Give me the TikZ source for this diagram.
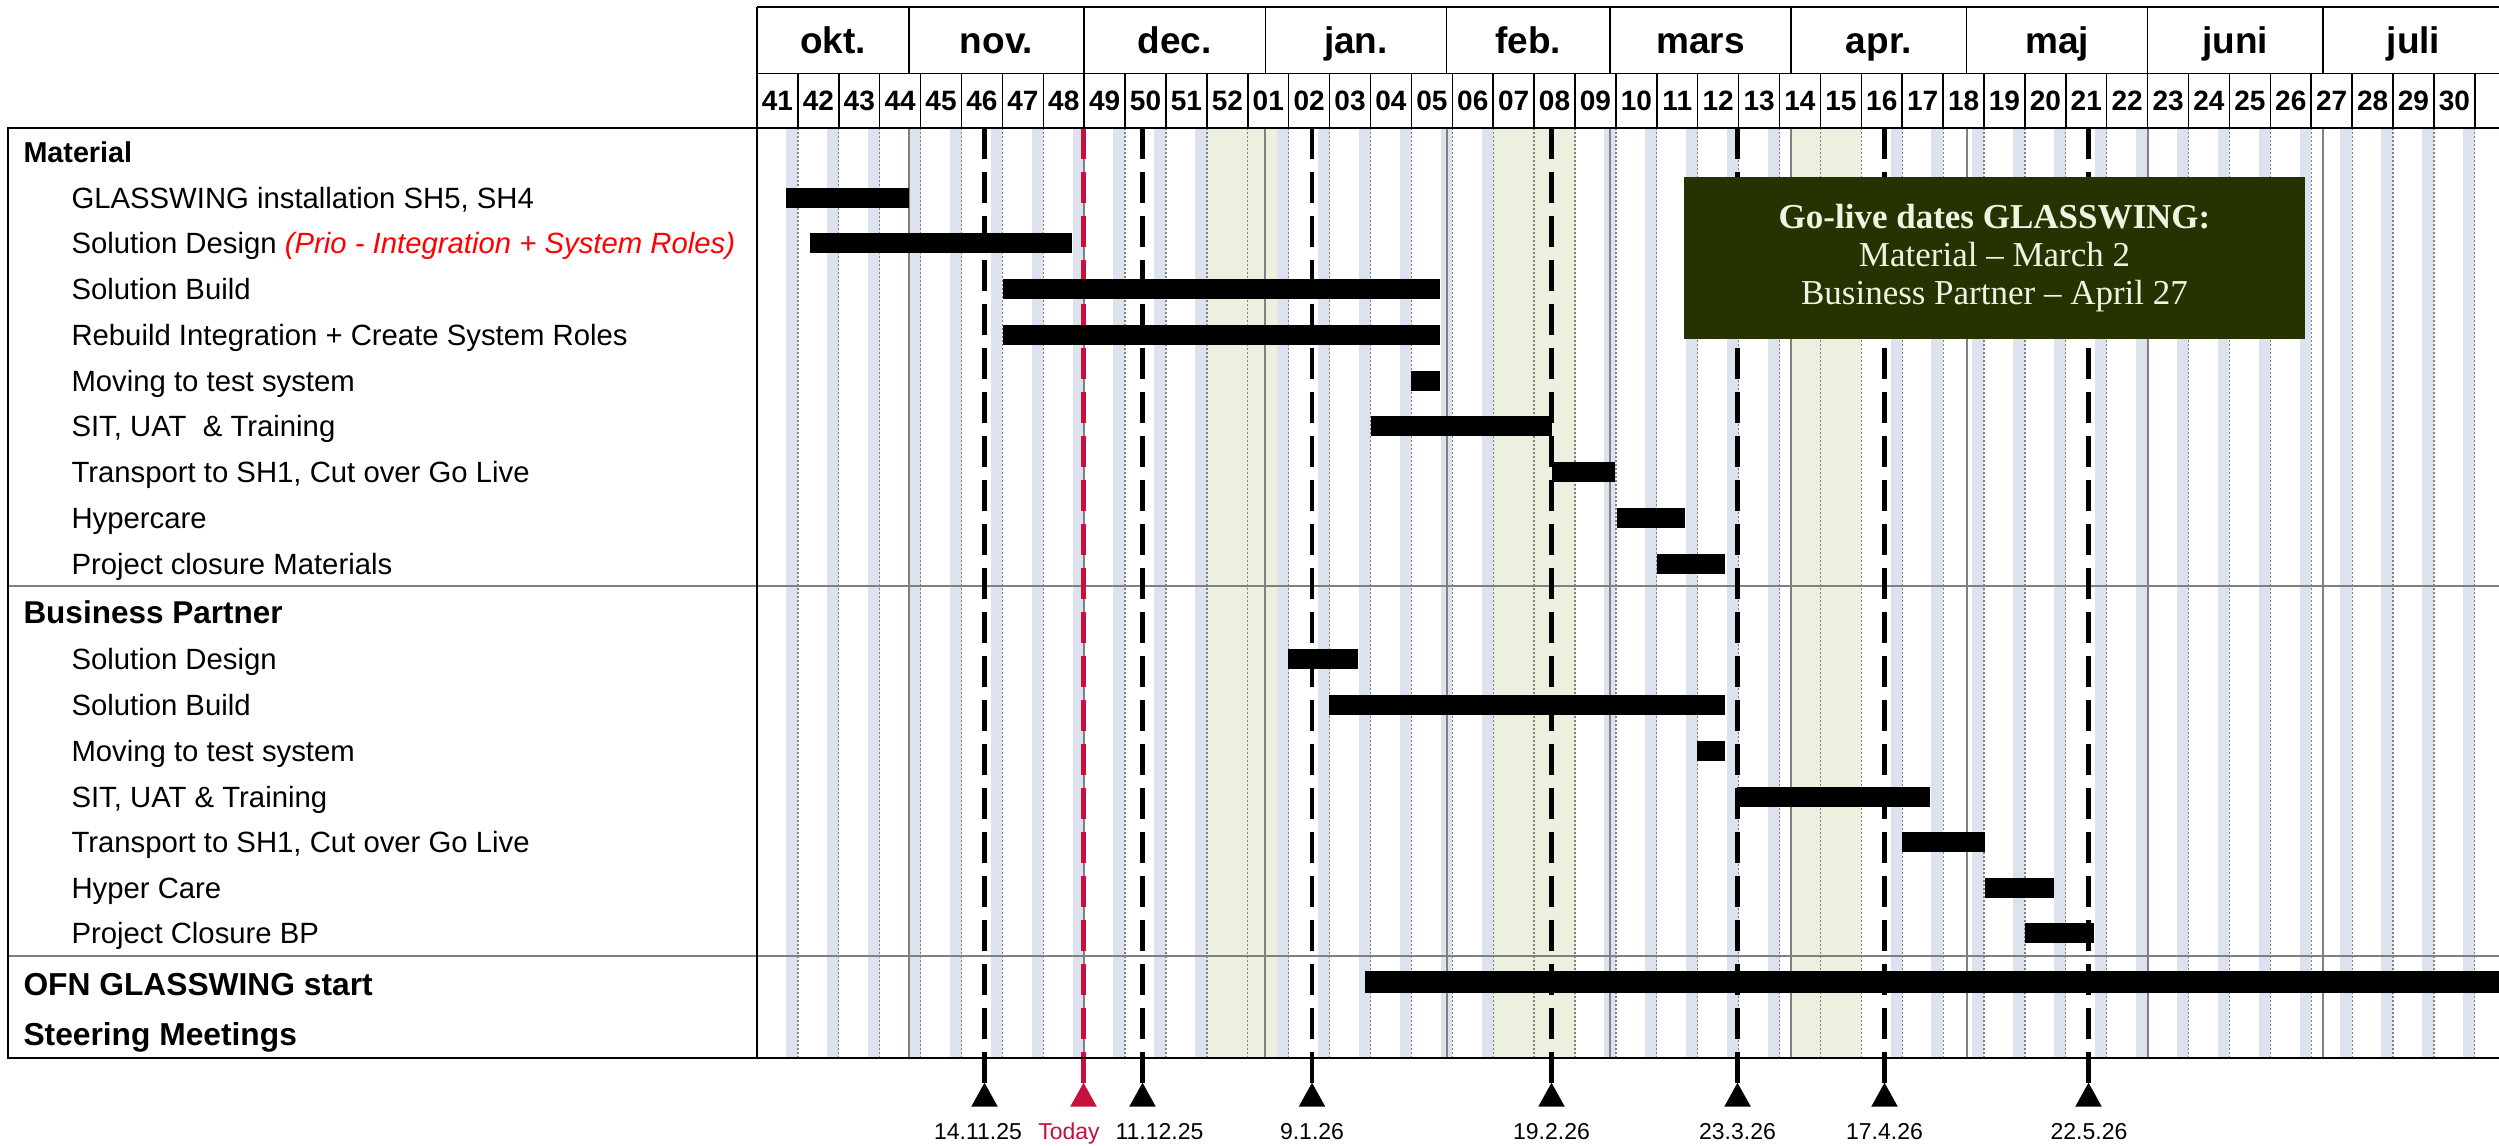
\documentclass[tikz,border=0pt]{standalone}
\usepackage{fontspec}
\setmainfont{Liberation Sans}
\newfontfamily\boxserif{Liberation Serif}
\definecolor{wkend}{RGB}{220,227,238}
\definecolor{holgreen}{RGB}{235,241,222}
\definecolor{gridgray}{RGB}{128,128,128}
\definecolor{boxgreen}{RGB}{38,51,0}
\definecolor{boxtext}{RGB}{238,244,226}
\definecolor{todayred}{RGB}{200,16,60}
\definecolor{prio}{RGB}{255,0,0}
\begin{document}
\begin{tikzpicture}[x=0.4pt,y=-0.4pt,
  itemlbl/.style={anchor=base west,inner sep=0pt,font=\fontsize{11.72pt}{14pt}\selectfont},
  seclbl/.style={anchor=base west,inner sep=0pt,font=\bfseries\fontsize{11.5pt}{14pt}\selectfont},
  biglbl/.style={anchor=base west,inner sep=0pt,font=\bfseries\fontsize{12.7pt}{15pt}\selectfont},
  monthlbl/.style={anchor=base,inner sep=0pt,font=\bfseries\fontsize{14.8pt}{17pt}\selectfont},
  weeklbl/.style={anchor=base,inner sep=0pt,font=\bfseries\fontsize{11.2pt}{13pt}\selectfont},
  datelbl/.style={anchor=base,inner sep=0pt,font=\fontsize{9.2pt}{11pt}\selectfont},
  ganttbar/.style={fill=black},
  wkline/.style={draw=gridgray,line width=0.5pt,dash pattern=on 0.8pt off 0.8pt},
  monline/.style={draw=gridgray,line width=0.8pt},
  frameline/.style={draw=black,line width=0.68pt},
  hdrline/.style={draw=black,line width=0.6pt},
  sepline/.style={draw=gridgray,line width=0.7pt},
  marker/.style={line width=1.72pt,dash pattern=on 12.4pt off 5.2pt},
]
\useasboundingbox (0,0) rectangle (2499,1146);
\clip (0,0) rectangle (2499,1146);
\fill[white] (0,0) rectangle (2499,1146);
% weekend stripes
\foreach \k in {0,...,41}{
  \fill[wkend] ({757+40.9*\k+29.2},127.7) rectangle ({757+40.9*(\k+1)},1057.7);
}
% holiday areas
\fill[holgreen] (1207,127.7) rectangle (1277,1057.7);
\fill[holgreen] (1493,127.7) rectangle (1576,1057.7);
\fill[holgreen] (1791,127.7) rectangle (1861.3,1057.7);
% week dotted lines
\foreach \k in {1,...,42}{
  \draw[wkline] ({757+40.9*\k},127.7) -- ({757+40.9*\k},1057.7);
}
% month lines
\foreach \x in {908.9,1084.2,1265.3,1446.5,1610.1,1791.2,1966.5,2147.6,2322.9}{
  \draw[monline] (\x,127.7) -- (\x,1057.7);
}
% separators
\draw[sepline] (7.7,586) -- (2499,586);
\draw[sepline] (7.7,956) -- (2499,956);
% milestone markers
\foreach \x/\c in {984.5/black,1083.5/todayred,1142.5/black,1312/black,1551.5/black,1737.5/black,1884.5/black,2088.5/black}{
  \draw[marker,\c] (\x,127.7) -- (\x,1084);
  \fill[\c] (\x,1082.7) -- ({\x+13.3},1106.7) -- ({\x-13.3},1106.7) -- cycle;
}
% bars
\foreach \a/\b/\y in {786/908.5/198, 810/1072/243, 1002.5/1440/289, 1002.5/1440/335,
  1410.5/1440/381, 1370.5/1552/426, 1552/1615/472, 1617/1685/518, 1657/1725/564,
  1288/1358/659, 1328.5/1725/705, 1696.5/1725/751, 1737/1930/797, 1902/1984.5/842,
  1984.5/2054/888, 2024.5/2094/933}{
  \fill[ganttbar] (\a,{\y-10}) rectangle (\b,{\y+10});
}
\fill[ganttbar] (1365,971) rectangle (2520,993);
% frame
\draw[frameline] (2499,127.7) -- (7.7,127.7) -- (7.7,1057.7) -- (2499,1057.7);
\draw[frameline] (757,7) -- (757,1057.7);
% header
\draw[hdrline] (757,7) -- (2499,7);
\draw[hdrline] (757,73.3) -- (2499,73.3);
\foreach \x in {908.9,1084.2,1265.3,1446.5,1610.1,1791.2,1966.5,2147.6,2322.9}{
  \draw[hdrline] (\x,7) -- (\x,73.3);
}
\foreach \k in {1,...,42}{
  \draw[hdrline] ({757+40.9*\k},73.3) -- ({757+40.9*\k},127.7);
}
\foreach \m/\x [count=\i] in {okt./833,nov./996.5,dec./1174.7,jan./1355.9,feb./1528.3,mars/1700.6,apr./1878.8,maj/2057,juni/2235.2,juli/2413.5}{
  \node[monthlbl] (mo\i) at (\x,53.2) {\m};
}
\foreach \w [count=\i from 0] in {41,42,43,44,45,46,47,48,49,50,51,52,01,02,03,04,05,06,07,08,09,10,11,12,13,14,15,16,17,18,19,20,21,22,23,24,25,26,27,28,29,30}{
  \node[weeklbl] (wk\i) at ({757+40.9*\i+20.45},110.5) {\w};
}
% left labels
\node[seclbl] (matH) at (23,162.3) {Material};
\node[itemlbl] (m1) at (71,208.5) {GLASSWING installation SH5, SH4};
\node[itemlbl] (m2) at (71,253.5) {Solution Design {\color{prio}\itshape (Prio - Integration + System Roles)}};
\node[itemlbl] (m3) at (71,299.5) {Solution Build};
\node[itemlbl] (m4) at (71,345.5) {Rebuild Integration + Create System Roles};
\node[itemlbl] (m5) at (71,391.5) {Moving to test system};
\node[itemlbl] (m6) at (71,436.5) {SIT, UAT~ \& Training};
\node[itemlbl] (m7) at (71,482.5) {Transport to SH1, Cut over Go Live};
\node[itemlbl] (m8) at (71,528.5) {Hypercare};
\node[itemlbl] (m9) at (71,574.5) {Project closure Materials};
\node[seclbl,font=\bfseries\fontsize{12.6pt}{15pt}\selectfont] (bpH) at (23,623.3) {Business Partner};
\node[itemlbl] (b1) at (71,669.5) {Solution Design};
\node[itemlbl] (b2) at (71,715.5) {Solution Build};
\node[itemlbl] (b3) at (71,761.5) {Moving to test system};
\node[itemlbl] (b4) at (71,807.5) {SIT, UAT \& Training};
\node[itemlbl] (b5) at (71,852.5) {Transport to SH1, Cut over Go Live};
\node[itemlbl] (b6) at (71,898.5) {Hyper Care};
\node[itemlbl] (b7) at (71,943.5) {Project Closure BP};
\node[biglbl] (ofn) at (23,995) {OFN GLASSWING start};
\node[biglbl] (steer) at (23,1045) {Steering Meetings};
% date labels
\node[datelbl] (d1) at (978,1139.3) {14.11.25};
\node[datelbl,text=todayred] (d2) at (1069,1139.3) {Today};
\node[datelbl] (d3) at (1159.5,1139.3) {11.12.25};
\node[datelbl] (d4) at (1312,1139.3) {9.1.26};
\node[datelbl] (d5) at (1551.5,1139.3) {19.2.26};
\node[datelbl] (d6) at (1737.5,1139.3) {23.3.26};
\node[datelbl] (d7) at (1884.5,1139.3) {17.4.26};
\node[datelbl] (d8) at (2089,1139.3) {22.5.26};
% go-live box
\fill[boxgreen] (1684,177) rectangle (2305,339);
\node[align=center,inner sep=0pt,text=boxtext,font=\boxserif\fontsize{14pt}{15.2pt}\selectfont] (golive) at (1994.5,258) {\textbf{Go-live dates GLASSWING:}\\Material – March 2\\Business Partner – April 27};
\end{tikzpicture}
\end{document}
